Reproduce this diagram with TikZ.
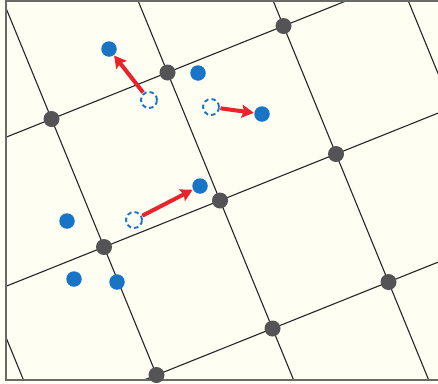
\documentclass[tikz,border=0pt]{standalone}
\usetikzlibrary{arrows.meta}
\definecolor{bg}{HTML}{FEFEF3}
\definecolor{dotblue}{HTML}{1874C4}
\definecolor{arrred}{HTML}{E8232B}
\definecolor{latgrey}{HTML}{545457}
\definecolor{framegrey}{HTML}{6A6A66}
\tikzset{
  latline/.style={line width=1.1pt, draw=black!85},
  latpt/.style={circle, fill=latgrey, minimum size=16pt, inner sep=0pt, outer sep=0pt},
  bdot/.style={circle, fill=dotblue, minimum size=15.5pt, inner sep=0pt, outer sep=0pt},
  ghost/.style={circle, draw=dotblue, line width=1.9pt, dash pattern=on 4.5pt off 3pt, minimum size=16pt, inner sep=0pt, outer sep=1.5pt},
  movearrow/.style={draw=arrred, line width=4pt, -{Stealth[length=12pt,width=13pt,inset=2pt]}, shorten >=0.5pt}
}
\begin{document}
\begin{tikzpicture}[x=1pt,y=-1pt]
\useasboundingbox (0,0) rectangle (438,383);
\fill[bg] (0,0) rectangle (438,383);
\begin{scope}
  \clip (6,1) rectangle (438,380);
  \foreach \i in {-3,...,3}
    \draw[latline] ({104+52.5*\i-580},{247+128*\i+232.5}) -- ({104+52.5*\i+580},{247+128*\i-232.5});
  \foreach \j in {-3,...,5}
    \draw[latline] ({104+116*\j-210},{247-46.5*\j-512}) -- ({104+116*\j+210},{247-46.5*\j+512});
\end{scope}
\draw[framegrey, line width=1.3pt] (438,1) -- (6,1) -- (6,380) -- (438,380);
% lattice points
\node[latpt] (g1) at (51.5,119) {};
\node[latpt] (g2) at (167.5,72.5) {};
\node[latpt] (g3) at (283.5,26) {};
\node[latpt] (g4) at (104,247) {};
\node[latpt] (g5) at (220,200.5) {};
\node[latpt] (g6) at (336,154) {};
\node[latpt] (g7) at (156.5,375) {};
\node[latpt] (g8) at (272.5,328.5) {};
\node[latpt] (g9) at (388.5,282) {};
% atoms
\node[bdot] (p1) at (109,49) {};
\node[bdot] (p2) at (198,73) {};
\node[bdot] (p3) at (262,114) {};
\node[bdot] (p4) at (200,186) {};
\node[bdot] (p5) at (67,221) {};
\node[bdot] (p6) at (74,279) {};
\node[bdot] (p7) at (117,282) {};
% previous positions
\node[ghost] (d1) at (149,100) {};
\node[ghost] (d2) at (211,107) {};
\node[ghost] (d3) at (134,220) {};
% displacements
\draw[movearrow] (d1) -- (p1);
\draw[movearrow] (d2) -- (p3);
\draw[movearrow] (d3) -- (p4);
\end{tikzpicture}
\end{document}
